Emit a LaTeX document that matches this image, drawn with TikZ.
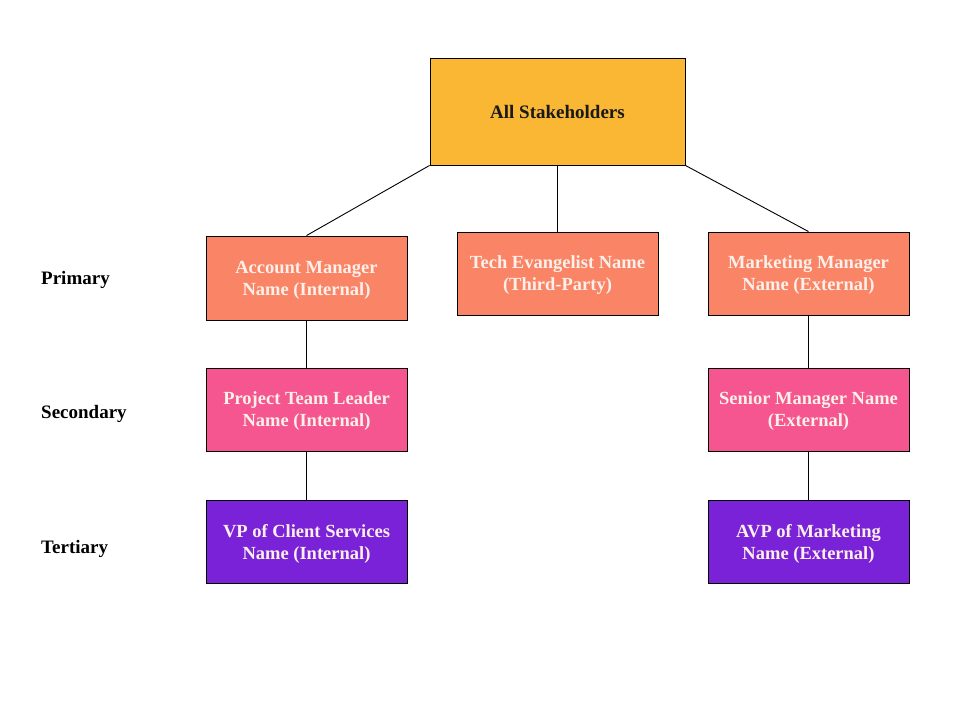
\documentclass[tikz,border=0pt]{standalone}
\usepackage{fontspec}
\setmainfont{Liberation Serif}
\definecolor{allcol}{HTML}{F9B733}
\definecolor{primcol}{HTML}{FA8566}
\definecolor{seccol}{HTML}{F5568F}
\definecolor{tertcol}{HTML}{7A22D8}
\definecolor{boxtext}{HTML}{FDF0EA}
\begin{document}
\begin{tikzpicture}
    [x=1pt, y=-1pt,
    stake/.style={draw=black, line width=0.9pt, minimum width=201pt, minimum height=83pt,
      align=center, text=boxtext, text depth=0pt, font=\fontsize{18.5}{22}\selectfont\bfseries},
    primary/.style={stake, fill=primcol},
    secondary/.style={stake, fill=seccol},
    tertiary/.style={stake, fill=tertcol},
    level/.style={anchor=west, inner sep=0pt, font=\fontsize{19}{22}\selectfont\bfseries},
    link/.style={draw=black, line width=0.9pt}]
    \useasboundingbox[fill=white] (0,0) rectangle (960,720);
    % top of the tree
    \node[stake, fill=allcol, text=black!90, minimum width=255pt, minimum height=107pt,
      font=\fontsize{19}{22}\selectfont\bfseries]
      (all) at (557.5,111.5) {All Stakeholders};
    % primary
    \node[primary, minimum height=84pt] (acct) at (306.5,278) {Account Manager\\Name (Internal)};
    \node[primary] (tech) at (557.5,273.5) {Tech Evangelist Name\\(Third-Party)};
    \node[primary] (mkt) at (808.5,273.5) {Marketing Manager\\Name (External)};
    % secondary
    \node[secondary] (ptl) at (306.5,409.5) {Project Team Leader\\Name (Internal)};
    \node[secondary] (snr) at (808.5,409.5) {Senior Manager Name\\(External)};
    % tertiary
    \node[tertiary] (vp) at (306.5,541.5) {VP of Client Services\\Name (Internal)};
    \node[tertiary] (avp) at (808.5,541.5) {AVP of Marketing\\Name (External)};
    % row labels
    \node[level] (lprim) at (41,280) {Primary};
    \node[level] (lsec) at (41,414) {Secondary};
    \node[level] (ltert) at (41,549) {Tertiary};
    % connectors
    \draw[link] (all.south west) -- (acct.north);
    \draw[link] (all.south) -- (tech.north);
    \draw[link] (all.south east) -- (mkt.north);
    \draw[link] (acct) -- (ptl);
    \draw[link] (ptl) -- (vp);
    \draw[link] (mkt) -- (snr);
    \draw[link] (snr) -- (avp);
\end{tikzpicture}
\end{document}
